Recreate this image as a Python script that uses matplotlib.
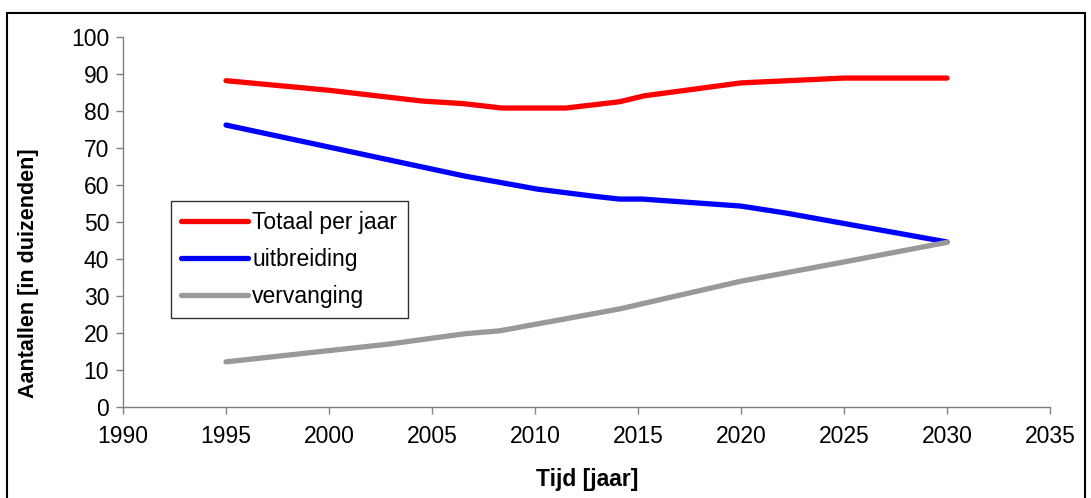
import matplotlib
matplotlib.use("Agg")
import matplotlib.pyplot as plt
from matplotlib.patches import Rectangle

plt.rcParams['font.family'] = ['Liberation Sans', 'DejaVu Sans']

# Totaal per jaar
totaal_jaar = [1995, 2000, 2004.5, 2006.5, 2008.4, 2011.5, 2014.1, 2015.3, 2020, 2025, 2030]
totaal = [88.2, 85.6, 82.7, 82.0, 80.8, 80.8, 82.5, 84.1, 87.6, 88.9, 88.9]

# uitbreiding
uitbreiding_jaar = [1995, 2006.6, 2010.1, 2012.8, 2014.1, 2015.2, 2018.5, 2020, 2022.2, 2030]
uitbreiding = [76.2, 62.4, 58.9, 57.0, 56.2, 56.2, 54.9, 54.3, 52.4, 44.6]

# vervanging
vervanging_jaar = [1995, 2002.9, 2006.6, 2008.3, 2014.1, 2020, 2025, 2030]
vervanging = [12.2, 17.0, 19.8, 20.6, 26.5, 34.0, 39.2, 44.5]

x_ticks = [1990, 1995, 2000, 2005, 2010, 2015, 2020, 2025, 2030, 2035]
y_ticks = [0, 10, 20, 30, 40, 50, 60, 70, 80, 90, 100]

W, H = 1091, 498
fig = plt.figure(figsize=(W / 100, H / 100), dpi=100)
fig.patch.set_facecolor('white')

# chart border
fig.patches.append(Rectangle((7 / W, -0.01), (1085 - 7) / W, (H - 13) / H + 0.01,
                             transform=fig.transFigure, fill=False,
                             edgecolor='black', linewidth=1.5))

ax = fig.add_axes([123 / W, 1 - 407 / H, (1050 - 123) / W, (407 - 37) / H])

lw = 3.8
ax.plot(totaal_jaar, totaal, color='#FF0000', lw=lw, solid_capstyle='round',
        solid_joinstyle='round', label='Totaal per jaar')
ax.plot(uitbreiding_jaar, uitbreiding, color='#0000FF', lw=lw, solid_capstyle='round',
        solid_joinstyle='round', label='uitbreiding')
ax.plot(vervanging_jaar, vervanging, color='#999999', lw=lw, solid_capstyle='round',
        solid_joinstyle='round', label='vervanging')

ax.set_xlim(1990, 2035)
ax.set_ylim(0, 100)
ax.set_xticks(x_ticks)
ax.set_yticks(y_ticks)
ax.tick_params(axis='both', labelsize=16.5, length=5, width=1, color='#808080',
               direction='out')
ax.tick_params(axis='x', pad=8)
ax.tick_params(axis='y', pad=5)

for side in ('top', 'right'):
    ax.spines[side].set_visible(False)
for side in ('left', 'bottom'):
    ax.spines[side].set_color('#808080')
    ax.spines[side].set_linewidth(1)

fig.text(29 / W, 1 - 273 / H, 'Aantallen [in duizenden]', rotation=90,
         fontsize=15.5, fontweight='bold', ha='center', va='center')
fig.text(587 / W, 1 - 479 / H, 'Tijd [jaar]', fontsize=16.5, fontweight='bold',
         ha='center', va='center')

leg = ax.legend(loc='upper left', bbox_to_anchor=((171 - 123) / 927, (407 - 201) / 370),
                borderaxespad=0, fontsize=16.5, frameon=True, fancybox=False,
                handlelength=2.9, handletextpad=0.2, labelspacing=0.6,
                borderpad=0.45)
leg.get_frame().set_edgecolor('black')
leg.get_frame().set_linewidth(1)

fig.savefig('out.png', dpi=100)
